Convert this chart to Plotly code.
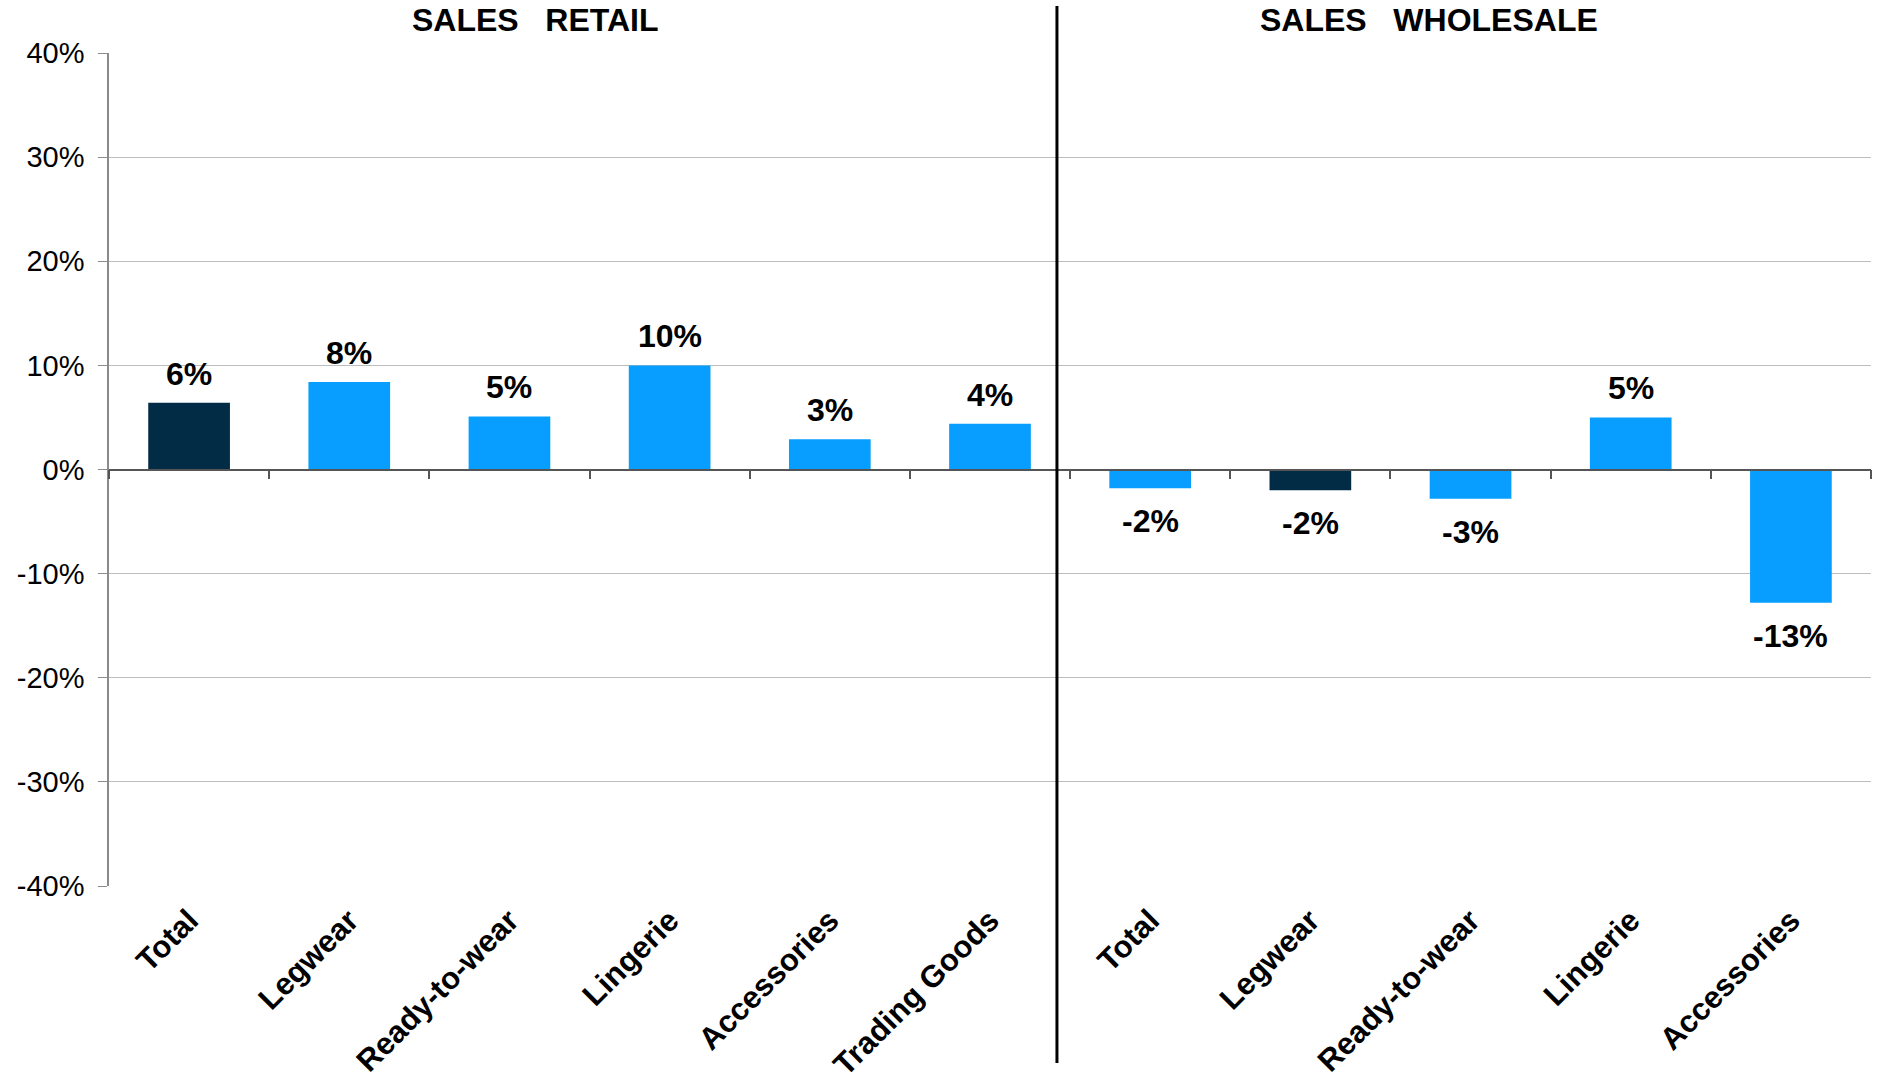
import plotly.graph_objects as go

# Year-on-year sales change by product line (%)
retail_labels = ["Total", "Legwear", "Ready-to-wear", "Lingerie", "Accessories", "Trading Goods"]
retail_change = [6.4, 8.4, 5.1, 10.0, 2.9, 4.4]

wholesale_labels = ["Total", "Legwear", "Ready-to-wear", "Lingerie", "Accessories"]
wholesale_change = [-1.8, -2.0, -2.8, 5.0, -12.8]

# Bars drawn in the dark accent colour
retail_dark = {"Total"}
wholesale_dark = {"Legwear"}

y_ticks = [-40, -30, -20, -10, 0, 10, 20, 30, 40]

LIGHT = "#079EFF"
DARK = "#022B45"
FONT = "Arial, Liberation Sans, sans-serif"

labels = retail_labels + wholesale_labels
values = retail_change + wholesale_change
xpos = list(range(len(labels)))
colors = [DARK if l in retail_dark else LIGHT for l in retail_labels] + \
         [DARK if l in wholesale_dark else LIGHT for l in wholesale_labels]

fig = go.Figure()
fig.add_trace(go.Bar(
    x=xpos, y=values, marker=dict(color=colors, line=dict(width=0)),
    width=0.51, hoverinfo="skip", showlegend=False,
))
# empty trace so the zero-level category axis gets drawn
fig.add_trace(go.Scatter(
    x=[xpos[0]], y=[0], xaxis="x2", mode="markers",
    marker=dict(opacity=0), hoverinfo="skip", showlegend=False,
))

# value labels above / below each bar
for x, v in zip(xpos, values):
    fig.add_annotation(
        x=x, y=v, text=f"{v:.0f}%", showarrow=False,
        yanchor="bottom" if v >= 0 else "top",
        yshift=9 if v >= 0 else -13,
        font=dict(family=FONT, size=32, color="black", weight="bold"),
    )

# section headings
for xp, txt in [(0.2418, "SALES&nbsp;&nbsp;&nbsp;RETAIL"), (0.749, "SALES&nbsp;&nbsp;&nbsp;WHOLESALE")]:
    fig.add_annotation(
        xref="paper", yref="paper", x=xp, y=1.0396, text=txt, showarrow=False,
        xanchor="center", yanchor="middle",
        font=dict(family=FONT, size=32, color="black", weight="bold"),
    )

# divider between retail and wholesale
fig.add_shape(type="line", xref="paper", yref="paper",
              x0=0.538, x1=0.538, y0=-0.2125, y1=1.0564,
              line=dict(color="black", width=3))

fig.update_layout(
    width=1877, height=1083,
    margin=dict(l=109, r=6, t=53, b=197, autoexpand=False),
    paper_bgcolor="white", plot_bgcolor="white",
    font=dict(family=FONT, color="black"),
    bargap=0.49,
    xaxis=dict(
        range=[-0.5, len(labels) - 0.5], automargin=False,
        tickmode="array", tickvals=xpos, ticktext=labels,
        tickangle=-45, ticks="", showline=False, showgrid=False, zeroline=False,
        ticklabelstandoff=9,
        tickfont=dict(family=FONT, size=31, color="black", weight="bold"),
    ),
    xaxis2=dict(
        overlaying="x", anchor="free", position=0.5, automargin=False,
        range=[-0.5, len(labels) - 0.5],
        tickmode="linear", tick0=-0.5, dtick=1,
        ticks="outside", ticklen=9, tickwidth=1.5, tickcolor="#555555",
        showline=True, linecolor="#555555", linewidth=1.5,
        showticklabels=False, showgrid=False, zeroline=False,
    ),
    yaxis=dict(
        range=[-40, 40], tickmode="array", tickvals=y_ticks, automargin=False,
        ticktext=[f"{t}%" for t in y_ticks],
        showline=True, linecolor="#8a8a8a", linewidth=1.5,
        ticks="outside", ticklen=9, tickcolor="#8a8a8a",
        showgrid=True, gridcolor="#bdbdbd", gridwidth=1.2, zeroline=False,
        ticklabelstandoff=8,
        tickfont=dict(family=FONT, size=29, color="black"),
    ),
)

fig.write_html("out.html")
